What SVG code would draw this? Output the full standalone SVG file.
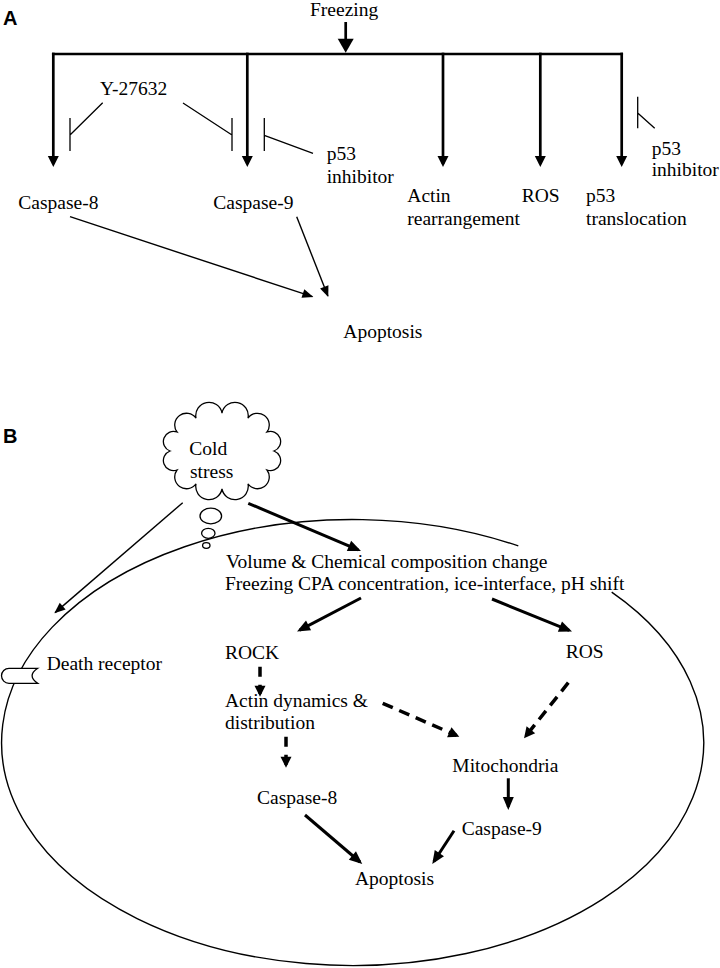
<svg xmlns="http://www.w3.org/2000/svg" width="720" height="968" viewBox="0 0 720 968">
<style>
text{font-family:"Liberation Serif","Times New Roman",serif;font-size:19.5px;fill:#000}
.lbl{font-family:"Liberation Sans",Arial,sans-serif;font-weight:bold;font-size:20px}
.a{stroke:#000;stroke-width:2.7;fill:none}
.t{stroke:#000;stroke-width:1.3;fill:none}
.k{stroke:#000;stroke-width:3;fill:none}
.d{stroke:#000;stroke-width:3.5;fill:none}
.o{stroke:#000;stroke-width:1.4;fill:none}
</style>
<defs>
<marker id="hA" markerUnits="userSpaceOnUse" markerWidth="12" markerHeight="12" refX="8" refY="5.5" orient="auto" overflow="visible"><path d="M0,0 L11,5.5 L0,11 Z" fill="#000"/></marker>
<marker id="hBig" markerUnits="userSpaceOnUse" markerWidth="16" markerHeight="16" refX="11" refY="8" orient="auto" overflow="visible"><path d="M0,0 L14,8 L0,16 Z" fill="#000"/></marker>
<marker id="hThin" markerUnits="userSpaceOnUse" markerWidth="12" markerHeight="10" refX="10" refY="4.5" orient="auto" overflow="visible"><path d="M0,0 L11,4.5 L0,9 Z" fill="#000"/></marker>
<marker id="hThick" markerUnits="userSpaceOnUse" markerWidth="14" markerHeight="12" refX="10" refY="5.5" orient="auto" overflow="visible"><path d="M0,0 L13,5.5 L0,11 Z" fill="#000"/></marker>
<marker id="hDash" markerUnits="userSpaceOnUse" markerWidth="12" markerHeight="12" refX="8" refY="5.5" orient="auto" overflow="visible"><path d="M0,0 L11,5.5 L0,11 Z" fill="#000"/></marker>
</defs>
<rect width="720" height="968" fill="#fff"/>

<!-- Panel A -->
<text class="lbl" x="3" y="25">A</text>
<g id="freezing"><text x="310" y="16">Freezing</text></g>
<g id="y27632"><text x="100" y="95">Y-27632</text></g>
<g id="p53inh1"><text x="326.7" y="160">p53</text><text x="326.7" y="183">inhibitor</text></g>
<g id="p53inh2"><text x="651.7" y="155">p53</text><text x="651.7" y="176">inhibitor</text></g>
<g id="casp8A"><text x="18.3" y="208.5">Caspase-8</text></g>
<g id="casp9A"><text x="213.3" y="208.5">Caspase-9</text></g>
<g id="actinA"><text x="407.3" y="202.3">Actin</text><text x="407.3" y="225">rearrangement</text></g>
<g id="rosA"><text x="521.7" y="202.3">ROS</text></g>
<g id="p53trans"><text x="586" y="202.3">p53</text><text x="586" y="225">translocation</text></g>
<g id="apopA"><text x="343.3" y="338.3">Apoptosis</text></g>

<!-- Panel B -->
<text class="lbl" x="3" y="443">B</text>
<g id="cell">
<path class="o" d="M518.3,545.95 A351,223 0 1 0 611.7,592.1"/>
</g>
<g id="cold-stress">
<path d="M177,432 A1,1 0 0 1 196,418.1 A1,1 0 0 1 222,413 A1,1 0 0 1 248,418.1 A1,1 0 0 1 267,432 A1,1 0 0 1 274,451 A1,1 0 0 1 267,470 A1,1 0 0 1 248,483.9 A1,1 0 0 1 222,489 A1,1 0 0 1 196,483.9 A1,1 0 0 1 177,470 A1,1 0 0 1 170,451 A1,1 0 0 1 177,432 Z" fill="#fff" stroke="#000" stroke-width="1.3"/>
<ellipse cx="210.8" cy="516" rx="10.8" ry="7.8" fill="#fff" stroke="#000" stroke-width="1.3"/>
<ellipse cx="208.3" cy="533.3" rx="6.7" ry="5" fill="#fff" stroke="#000" stroke-width="1.3"/>
<ellipse cx="206.3" cy="545.5" rx="3.7" ry="2.8" fill="#fff" stroke="#000" stroke-width="1.3"/>
<text x="189.3" y="455">Cold</text><text x="190" y="478.3">stress</text>
</g>
<g id="death-receptor">
<path d="M9,668.3 H37.7 Q26.5,675.8 37.7,683.3 H9 A7.5,7.5 0 0 1 9,668.3 Z" fill="#fff" stroke="#000" stroke-width="1.3"/>
<text x="46.7" y="669.5">Death receptor</text>
</g>
<g id="volume"><text x="226" y="568.3">Volume &amp; Chemical composition change</text><text x="225" y="590">Freezing CPA concentration, ice-interface, pH shift</text></g>
<g id="rock"><text x="225" y="659.3">ROCK</text></g>
<g id="rosB"><text x="565.7" y="658.3">ROS</text></g>
<g id="actinB"><text x="225" y="707.3">Actin dynamics &amp;</text><text x="225" y="729.3">distribution</text></g>
<g id="mito"><text x="452.3" y="771.7">Mitochondria</text></g>
<g id="casp8B"><text x="257" y="803.5">Caspase-8</text></g>
<g id="casp9B"><text x="461.7" y="835">Caspase-9</text></g>
<g id="apopB"><text x="355" y="885">Apoptosis</text></g>

<g id="connectors">
<!-- Panel A -->
<line class="a" x1="345.7" y1="22" x2="345.7" y2="49.7" stroke-width="4.5" marker-end="url(#hBig)"/>
<line class="a" x1="51.95" y1="54" x2="623.05" y2="54"/>
<line class="a" x1="53.3" y1="52.65" x2="53.3" y2="164" marker-end="url(#hA)"/>
<line class="a" x1="247.3" y1="52.65" x2="247.3" y2="164" marker-end="url(#hA)"/>
<line class="a" x1="443" y1="52.65" x2="443" y2="164" marker-end="url(#hA)"/>
<line class="a" x1="540.3" y1="52.65" x2="540.3" y2="164" marker-end="url(#hA)"/>
<line class="a" x1="621.7" y1="52.65" x2="621.7" y2="164" marker-end="url(#hA)"/>
<path class="t" d="M102.7,102.7 L70,135 M70,118 V151"/>
<path class="t" d="M183,103 L232,135 M232,118 V151"/>
<path class="t" d="M313,153.3 L264.3,135.3 M264.3,118 V151"/>
<path class="t" d="M654.7,128.3 L637.7,113 M637.7,96.7 V128.3"/>
<line class="o" x1="70" y1="216.7" x2="312.4" y2="296.7" marker-end="url(#hThin)"/>
<line class="o" x1="296.7" y1="216.7" x2="327.9" y2="296.1" marker-end="url(#hThin)"/>
<!-- Panel B -->
<line class="o" x1="182.7" y1="502.7" x2="55.1" y2="612.6" marker-end="url(#hThin)"/>
<line class="k" x1="248.3" y1="503.3" x2="358.2" y2="549.8" marker-end="url(#hThick)"/>
<line class="k" x1="361" y1="598" x2="299.7" y2="630.1" marker-end="url(#hThick)"/>
<line class="k" x1="492" y1="599" x2="569.2" y2="630.4" marker-end="url(#hThick)"/>
<line class="d" x1="260" y1="666.7" x2="260" y2="693.7" stroke-dasharray="10,8" marker-end="url(#hDash)"/>
<line class="d" x1="286" y1="736.7" x2="286" y2="764.7" stroke-dasharray="10,8" marker-end="url(#hDash)"/>
<line class="d" x1="382.7" y1="703.3" x2="456.6" y2="735.5" stroke-dasharray="11,7" marker-end="url(#hDash)"/>
<line class="d" x1="568.3" y1="682.7" x2="525.9" y2="736" stroke-dasharray="11,7" marker-end="url(#hDash)"/>
<line class="k" x1="508.3" y1="778.3" x2="508.3" y2="807" marker-end="url(#hThick)"/>
<line class="k" x1="454" y1="830.7" x2="433.9" y2="861.5" marker-end="url(#hThick)"/>
<line class="k" x1="305" y1="815" x2="360" y2="862" marker-end="url(#hThick)"/>
</g>
</svg>
